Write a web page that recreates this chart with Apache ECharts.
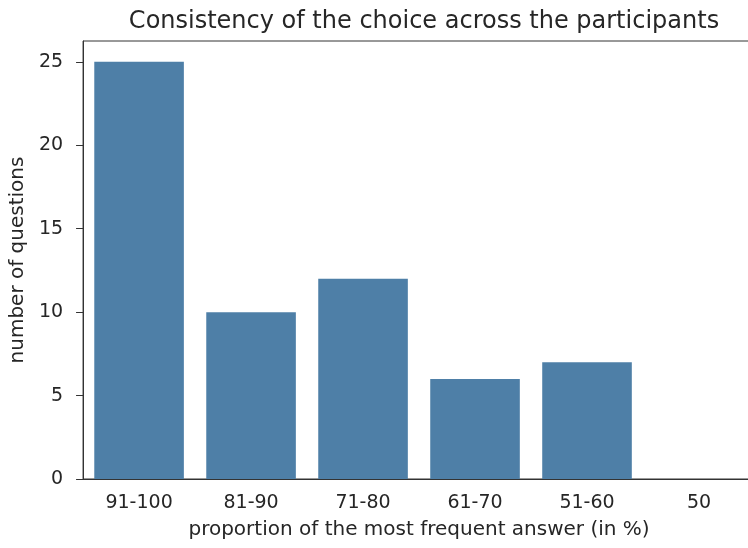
<!DOCTYPE html>
<html>
<head>
<meta charset="utf-8">
<script src="https://cdn.jsdelivr.net/npm/echarts@6/dist/echarts.min.js"></script>
<style>
  html, body { margin: 0; padding: 0; background: #fff; overflow: hidden; }
  /* the plot runs past the right edge of the picture, as in the reference */
  #chart { width: 770px; height: 548px; }
</style>
</head>
<body>
<div id="chart"></div>
<script>
// categories and values
const categories = ['91-100', '81-90', '71-80', '61-70', '51-60', '50'];
const counts = [25, 10, 12, 6, 7, 0];
const yTicks = [0, 5, 10, 15, 20, 25];

const font = 'DejaVu Sans';
const ink = '#262626';

const chart = echarts.init(document.getElementById('chart'));

const option = {
    animation: false,
    title: {
        text: 'Consistency of the choice across the participants',
        left: 419,
        textAlign: 'center',
        top: 5,
        textStyle: { fontFamily: font, fontSize: 24, fontWeight: 'normal', color: ink }
    },
    grid: {
        left: 83, top: 41, width: 672, height: 438,
        show: true, borderColor: '#333', borderWidth: 1
    },
    xAxis: {
        type: 'category',
        data: categories,
        name: 'proportion of the most frequent answer (in %)',
        nameLocation: 'middle',
        nameGap: 41,
        nameTextStyle: { fontFamily: font, fontSize: 20, color: ink },
        axisLine: { lineStyle: { color: '#333', width: 1 } },
        axisTick: { alignWithLabel: true, length: 7, lineStyle: { color: '#333' } },
        axisLabel: { fontFamily: font, fontSize: 19, color: ink, margin: 15 }
    },
    yAxis: {
        type: 'value',
        min: 0,
        max: 26.25,
        interval: 5,
        name: 'number of questions',
        nameLocation: 'middle',
        nameGap: 53,
        nameTextStyle: { fontFamily: font, fontSize: 20, color: ink },
        splitLine: { show: false },
        axisLine: { show: true, lineStyle: { color: '#333', width: 1 } },
        axisTick: { show: true, length: 7, customValues: yTicks, lineStyle: { color: '#333' } },
        axisLabel: { fontFamily: font, fontSize: 19, color: ink, margin: 20, customValues: yTicks }
    },
    series: [{
        type: 'bar',
        data: counts,
        barCategoryGap: '20%',
        itemStyle: { color: '#4e7fa7' }
    }]
};

chart.setOption(option);
</script>
</body>
</html>
